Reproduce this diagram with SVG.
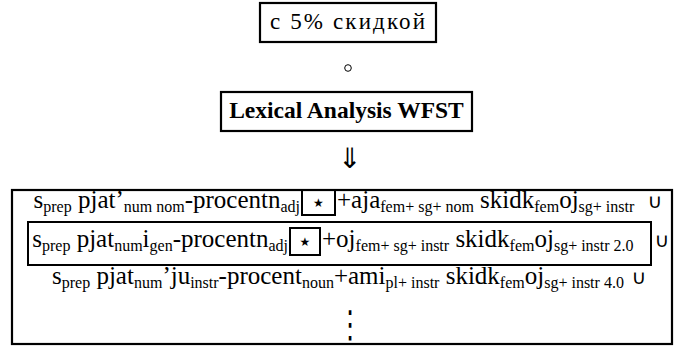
<svg xmlns="http://www.w3.org/2000/svg" width="676" height="347" viewBox="0 0 676 347">
<style>
.box{fill:#fff;stroke:#000;stroke-width:2.2}
.sbox{fill:none;stroke:#000;stroke-width:2}
text.t{font-family:'Liberation Serif','Times New Roman',serif;font-size:25px;fill:#000}
.s{font-size:16px}
.sym{font-family:'DejaVu Sans',sans-serif;fill:#000}
.cup{font-family:'DejaVu Sans',sans-serif;font-size:20px;fill:#000}
.star{font-family:'DejaVu Sans',sans-serif;font-size:12px;fill:#000}
</style>
<rect width="676" height="347" fill="#fff"/>
<g id="input">
<rect class="box" x="260" y="3" width="176" height="39"/>
<text class="t" x="270" y="29" textLength="155" lengthAdjust="spacing" style="font-size:23px">с 5% скидкой</text>
</g>
<g id="wfst">
<rect class="box" x="221" y="92" width="251" height="39"/>
<text class="t" x="346.5" y="118" text-anchor="middle" font-weight="bold" style="font-size:23.5px">Lexical Analysis WFST</text>
</g>
<g id="connectors">
<circle cx="348" cy="68" r="3.3" fill="none" stroke="#000" stroke-width="1"/>
<text class="sym" x="350" y="168" text-anchor="middle" font-size="28">⇓</text>
</g>
<g id="lattice">
<rect class="box" x="12" y="190" width="660" height="154" stroke-width="2.5"/>
<g id="row1">
<text class="t" x="300" y="208" text-anchor="end">s<tspan class="s" dy="4">prep</tspan><tspan dy="-4"> pjat’</tspan><tspan class="s" dy="4">num nom</tspan><tspan dy="-4">-procentn</tspan><tspan class="s" dy="4">adj</tspan></text>
<rect class="sbox" x="302" y="190" width="33" height="25"/>
<text class="star" x="318.5" y="207" text-anchor="middle">★</text>
<text class="t" x="337" y="208">+aja<tspan class="s" dy="4">fem+ sg+ nom</tspan><tspan dy="-4"> skidk</tspan><tspan class="s" dy="4">fem</tspan><tspan dy="-4">oj</tspan><tspan class="s" dy="4">sg+ instr</tspan></text>
<text class="cup" x="655" y="208" text-anchor="middle">∪</text>
</g>
<g id="row2">
<rect class="sbox" x="28" y="222" width="623" height="43"/>
<text class="t" x="288" y="247" text-anchor="end">s<tspan class="s" dy="4">prep</tspan><tspan dy="-4"> pjat</tspan><tspan class="s" dy="4">num</tspan><tspan dy="-4">i</tspan><tspan class="s" dy="4">gen</tspan><tspan dy="-4">-procentn</tspan><tspan class="s" dy="4">adj</tspan></text>
<rect class="sbox" x="290" y="228" width="30" height="27"/>
<text class="star" x="305" y="246" text-anchor="middle">★</text>
<text class="t" x="322" y="247">+oj<tspan class="s" dy="4">fem+ sg+ instr</tspan><tspan dy="-4"> skidk</tspan><tspan class="s" dy="4">fem</tspan><tspan dy="-4">oj</tspan><tspan class="s" dy="4">sg+ instr 2.0</tspan></text>
<text class="cup" x="662" y="247" text-anchor="middle">∪</text>
</g>
<g id="row3">
<text class="t" x="52" y="284">s<tspan class="s" dy="4">prep</tspan><tspan dy="-4"> pjat</tspan><tspan class="s" dy="4">num</tspan><tspan dy="-4">’ju</tspan><tspan class="s" dy="4">instr</tspan><tspan dy="-4">-procent</tspan><tspan class="s" dy="4">noun</tspan><tspan dy="-4">+ami</tspan><tspan class="s" dy="4">pl+ instr</tspan><tspan dy="-4"> skidk</tspan><tspan class="s" dy="4">fem</tspan><tspan dy="-4">oj</tspan><tspan class="s" dy="4">sg+ instr 4.0</tspan></text>
<text class="cup" x="639" y="284" text-anchor="middle">∪</text>
<text class="sym" transform="translate(350,337) scale(1,1.5)" x="0" y="0" text-anchor="middle" font-size="25">⋮</text>
</g>
</g>
</svg>
